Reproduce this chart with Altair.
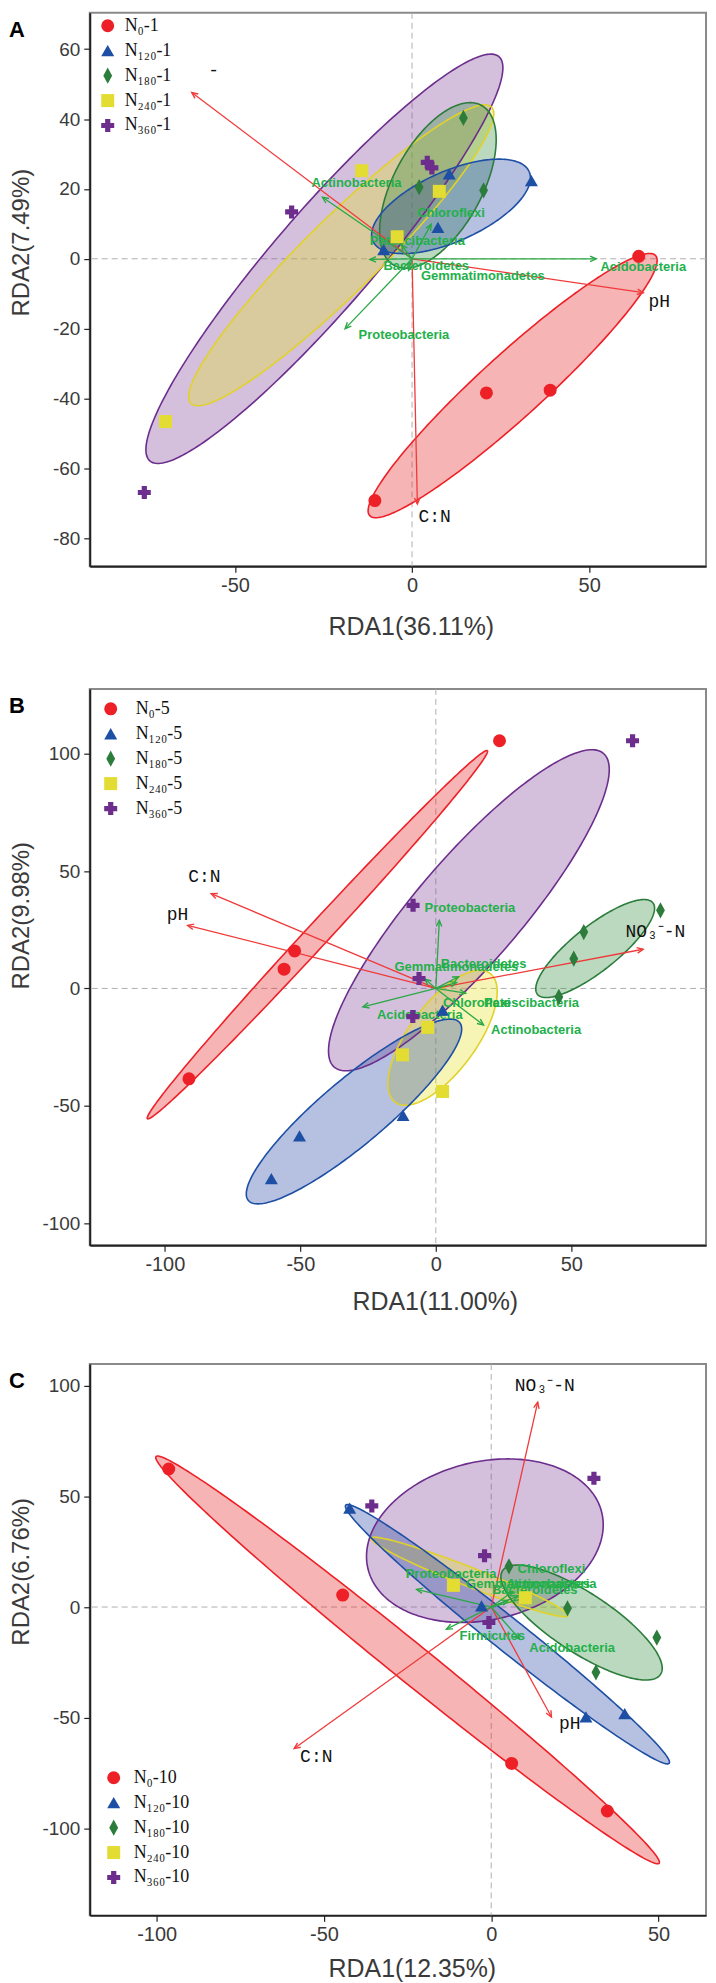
import altair as alt
import numpy as np
import pandas as pd

# ---------------- shared styling ----------------
COLORS = ["#ee2027", "#1d4fa5", "#2c7c3b", "#e3dc32", "#6c2d8c"]
FILLS = ["#e41a1c", "#2040a0", "#2e8b3e", "#e8e020", "#7b3f95"]
LINE_COLORS = ["#ee2027", "#1d4fa5", "#2c7c3b", "#e0d22a", "#6c2d8c"]
SHAPES = ["circle", "triangle-up", "M0,-1.25L0.68,0L0,1.25L-0.68,0Z", "square", "cross"]
DRAW_ORDER = [4, 3, 2, 1, 0]
ENV_COLOR = "#f03a3a"
SPEC_COLOR = "#2aa846"
SPEC_TEXT = "#22b04a"
CHEVRON = "M-0.45,1L0,0L0.45,1"

# ---------------- Panel A ----------------
A_GROUPS = ["N₀-1", "N₁₂₀-1", "N₁₈₀-1", "N₂₄₀-1", "N₃₆₀-1"]
A_PX = [64, 21, 39, -10.5, 33.7, 10.5, 7.3, -8, 14.5, 2, 20.2, -14.2, 7.7, -4.2, -69.6, 4.3, 5.6, -34, -75.6]
A_PY = [0.7, -38.4, -37.6, -69.2, 22.4, 24.3, 9, 2.6, 40.3, 20.5, 19.6, 25.2, 19.3, 6.3, -46.6, 27.6, 26, 13.4, -66.9]
A_PG = [0, 0, 0, 0, 1, 1, 1, 1, 2, 2, 2, 3, 3, 3, 3, 4, 4, 4, 4]
# ellipse: centre x, centre y, semi-major, semi-minor, angle (deg)
A_ELL = [(28.4, -36.3, 54.9, 9, 42.7), (11, 15, 24.2, 10, 24.4), (7.3, 21, 26, 12.5, 62),
         (-20, 1, 60, 10.5, 45), (-24.75, 0, 76, 14, 49.6)]
A_ENV_NAME = ["-", "pH", "C:N"]
A_ENV_X = [-62.2, 65.3, 1.5]
A_ENV_Y = [47.6, -9.7, -70.2]
A_ENV_LX = [-56, 69.8, 6.4]
A_ENV_LY = [53.8, -12.3, -74]
A_SP_NAME = ["Acidobacteria", "Actinobacteria", "Chloroflexi", "Patescibacteria", "Bacteroidetes", "Gemmatimonadetes", "Proteobacteria"]
A_SP_X = [52, -25.3, 5.4, -3, -11.9, -1, -18.9]
A_SP_Y = [0, 17.6, 9.9, 4, -0.2, -3.3, -20]
A_SP_LX = [65.3, -15.7, 11, 1.5, 4, 20, -2.3]
A_SP_LY = [-2.4, 21.7, 13.2, 5.2, -2.2, -5, -21.9]

# ---------------- Panel B ----------------
B_GROUPS = ["N₀-5", "N₁₂₀-5", "N₁₈₀-5", "N₂₄₀-5", "N₃₆₀-5"]
B_PX = [23.5, -52.1, -56, -91.1, -60.7, -50.3, -12.1, 2.5, 82.9, 54.6, 50.9, 45.4, -3, -12.3, 2.5, 72.6, -8.4, -6.2, -8.5]
B_PY = [105.5, 16, 8.2, -38.5, -81, -62.8, -54.1, -9.2, 33.3, 24, 12.7, -3.6, -16.6, -28.3, -43.9, 105.5, 35.4, 4.2, -12]
B_PG = [0, 0, 0, 0, 1, 1, 1, 1, 2, 2, 2, 2, 3, 3, 3, 4, 4, 4, 4]
B_ELL = [(-43.7, 22.9, 100.4, 4.5, 51.35), (-30.2, -52.4, 54.4, 13, 44.7), (58.8, 17, 28.9, 9, 43.3),
         (2.5, -21, 32.6, 13, 59), (12.2, 33.3, 83.3, 20.5, 53.9)]
B_ENV_NAME = ["C:N", "pH", "NO₃⁻-N"]
B_ENV_X = [-82.9, -91.6, 76.5]
B_ENV_Y = [40.4, 26.9, 16.7]
B_ENV_LX = [-85.4, -95.3, 81]
B_ENV_LY = [47.4, 31.4, 24]
B_SP_NAME = ["Proteobacteria", "Gemmatimonadetes", "Bacteroidetes", "Chloroflexi", "Patescibacteria", "Acidobacteria", "Actinobacteria"]
B_SP_X = [1.3, -4, 8.4, 11, 7.6, -26.9, 17.6]
B_SP_Y = [29, 4, 5, -2, 2.5, -7.8, -15.6]
B_SP_LX = [12.6, 7.6, 17.6, 15.1, 35.3, -5.9, 37]
B_SP_LY = [34.3, 9.2, 10.6, -6.4, -6, -11.3, -17.7]

# ---------------- Panel C ----------------
C_GROUPS = ["N₀-10", "N₁₂₀-10", "N₁₈₀-10", "N₂₄₀-10", "N₃₆₀-10"]
C_PX = [-96.4, -44.4, 6.1, 34.7, -42.3, -2.9, 28.3, 39.9, 5.3, 22.8, 49.5, 31.3, -11.3, 10.2, -35.7, 30.7, -2, -0.7]
C_PY = [62.4, 5.4, -70.7, -92.2, 44.7, 0.5, -49.7, -48.2, 18.4, -0.6, -13.8, -29.5, 9.8, 4.2, 45.7, 58.2, 23.2, -7]
C_PG = [0, 0, 0, 0, 1, 1, 1, 1, 2, 2, 2, 2, 3, 3, 4, 4, 4, 4]
C_ELL = [(-25, -23.9, 118.8, 7, -50.8), (4.85, -12.3, 75.8, 6, -50.5), (27, -7, 33.6, 11.3, -47.7),
         (-6.5, 13.6, 34.2, 4, -31), (-1.9, 30, 39.6, 32.4, 51.4)]
C_ENV_NAME = ["NO₃⁻-N", "C:N", "pH"]
C_ENV_X = [13.9, -58.9, 18]
C_ENV_Y = [92.6, -64, -49.7]
C_ENV_LX = [16, -52.3, 23.5]
C_ENV_LY = [100.1, -67.7, -52.7]
C_SP_NAME = ["Proteobacteria", "Chloroflexi", "Gemmatimonadetes", "Actinobacteria", "Bacteroidetes", "Firmicutes", "Acidobacteria"]
C_SP_X = [-22.3, 6.4, 8, 10, 5, -13.4, 8.5]
C_SP_Y = [8, 7, 5, 4, 3, -10, -14.5]
C_SP_LX = [-12, 18, 11, 18, 13, 0.3, 24.2]
C_SP_LY = [15, 17, 10.5, 10.5, 7.5, -13, -18.3]


def ellipse_band(cx, cy, a, b, ang, n=180):
    th = np.radians(ang)
    c, s = np.cos(th), np.sin(th)
    W = np.sqrt(a * a * c * c + b * b * s * s)
    t = np.linspace(np.pi, 0, n)
    X = W * np.cos(t)
    qa = s * s / (a * a) + c * c / (b * b)
    qb = 2 * X * s * c * (1 / (a * a) - 1 / (b * b))
    qc = X * X * (c * c / (a * a) + s * s / (b * b)) - 1
    disc = np.sqrt(np.clip(qb * qb - 4 * qa * qc, 0, None))
    return pd.DataFrame({"x": cx + X, "yhi": cy + (-qb + disc) / (2 * qa), "ylo": cy + (-qb - disc) / (2 * qa)})


def ellipse_ring(cx, cy, a, b, ang, n=240):
    th = np.radians(ang)
    c, s = np.cos(th), np.sin(th)
    t = np.linspace(0, 2 * np.pi, n)
    X = a * np.cos(t) * c - b * np.sin(t) * s
    Y = a * np.cos(t) * s + b * np.sin(t) * c
    return pd.DataFrame({"x": cx + X, "y": cy + Y, "o": np.arange(n)})


def panel(letter, groups, px, py, pg, ell, env, spec, xdom, ydom, xticks, yticks,
          w, h, xtitle, ytitle, xtx, xty, yty, legxy, labeloff):
    kx = w / (xdom[1] - xdom[0])
    ky = h / (ydom[1] - ydom[0])
    xs = alt.Scale(domain=xdom, nice=False, zero=False)
    ys = alt.Scale(domain=ydom, nice=False, zero=False)
    xa = alt.Axis(values=xticks, title=xtitle, titleX=xtx, titleY=xty, titleAlign="center",
                  titleBaseline="middle", grid=False, labelExpr="'' + datum.value")
    ya = alt.Axis(values=yticks, title=ytitle, titleX=-68, titleY=yty, titleAlign="center",
                  titleBaseline="middle", grid=False, labelExpr="'' + datum.value")

    def X(f):
        return alt.X(f, type="quantitative", scale=xs, axis=xa)

    def Y(f):
        return alt.Y(f, type="quantitative", scale=ys, axis=ya)

    layers = []
    zero = pd.DataFrame({"v": [0.0]})
    layers.append(alt.Chart(zero).mark_rule(color="#b0b0b0", strokeDash=[6, 4], strokeWidth=1).encode(x=X("v")))
    layers.append(alt.Chart(zero).mark_rule(color="#b0b0b0", strokeDash=[6, 4], strokeWidth=1).encode(y=Y("v")))

    for i in DRAW_ORDER:
        band = ellipse_band(*ell[i])
        layers.append(alt.Chart(band).mark_area(color=FILLS[i], opacity=0.33, clip=True)
                      .encode(x=X("x"), y=Y("yhi"), y2="ylo"))
    for i in DRAW_ORDER:
        ring = ellipse_ring(*ell[i])
        layers.append(alt.Chart(ring).mark_line(color=LINE_COLORS[i], strokeWidth=1.6, clip=True)
                      .encode(x=X("x"), y=Y("y"), order="o:Q"))

    for (names, tx, ty, lx, ly), col, tcol, font, fsize, fw in [
        (env, ENV_COLOR, "#111111", "Liberation Mono", 18, "normal"),
        (spec, SPEC_COLOR, SPEC_TEXT, "Liberation Sans Narrow, Liberation Sans", 13, "bold"),
    ]:
        ang = [(np.degrees(np.arctan2(x * kx, y * ky)) + 360) % 360 for x, y in zip(tx, ty)]
        df = pd.DataFrame({"name": names, "x0": 0.0, "y0": 0.0, "x": tx, "y": ty,
                           "lx": lx, "ly": ly, "ang": ang})
        layers.append(alt.Chart(df).mark_rule(color=col, strokeWidth=1.3)
                      .encode(x=X("x0"), y=Y("y0"), x2="x", y2="y"))
        layers.append(alt.Chart(df).mark_point(shape=CHEVRON, filled=False, size=150, strokeWidth=1.4,
                                               color=col, opacity=1)
                      .encode(x=X("x"), y=Y("y"), angle=alt.Angle("ang:Q", scale=None)))
        layers.append(alt.Chart(df).mark_text(font=font, fontSize=fsize, fontWeight=fw, color=tcol,
                                              align="center", baseline="middle")
                      .encode(x=X("lx"), y=Y("ly"), text="name:N"))

    pts = pd.DataFrame({"x": px, "y": py, "g": [groups[k] for k in pg]})
    leg = alt.Legend(orient="none", legendX=legxy[0], legendY=legxy[1], title=None,
                     labelFont="Liberation Serif", labelFontSize=18, labelColor="#111111",
                     symbolSize=170, rowPadding=7, labelOffset=labeloff, padding=0,
                     symbolStrokeWidth=0, labelLimit=200)
    layers.append(alt.Chart(pts).mark_point(filled=True, size=170, opacity=1)
                  .encode(x=X("x"), y=Y("y"),
                          color=alt.Color("g:N", scale=alt.Scale(domain=groups, range=COLORS), legend=leg),
                          shape=alt.Shape("g:N", scale=alt.Scale(domain=groups, range=SHAPES), legend=leg)))

    layers.append(alt.Chart(pd.DataFrame({"t": [letter]}))
                  .mark_text(font="Liberation Sans", fontSize=22, fontWeight="bold", color="#000000",
                             align="center", baseline="middle")
                  .encode(text="t:N", x=alt.value(-73), y=alt.value(17)))
    return alt.layer(*layers).properties(width=w, height=h)


pA = panel("A", A_GROUPS, A_PX, A_PY, A_PG, A_ELL,
           (A_ENV_NAME, A_ENV_X, A_ENV_Y, A_ENV_LX, A_ENV_LY),
           (A_SP_NAME, A_SP_X, A_SP_Y, A_SP_LX, A_SP_LY),
           [-91, 83], [-88, 70.4], [-50, 0, 50], [-80, -60, -40, -20, 0, 20, 40, 60],
           618, 555, "RDA1(36.11%)", "RDA2(7.49%)", 322, 60, 230, (9, 4), 8)
pB = panel("B", B_GROUPS, B_PX, B_PY, B_PG, B_ELL,
           (B_ENV_NAME, B_ENV_X, B_ENV_Y, B_ENV_LX, B_ENV_LY),
           (B_SP_NAME, B_SP_X, B_SP_Y, B_SP_LX, B_SP_LY),
           [-127.7, 99.7], [-109.4, 127.6], [-100, -50, 0, 50], [-100, -50, 0, 50, 100],
           618, 558, "RDA1(11.00%)", "RDA2(9.98%)", 346, 56, 227, (12, 11), 16)
pC = panel("C", C_GROUPS, C_PX, C_PY, C_PG, C_ELL,
           (C_ENV_NAME, C_ENV_X, C_ENV_Y, C_ENV_LX, C_ENV_LY),
           (C_SP_NAME, C_SP_X, C_SP_Y, C_SP_LX, C_SP_LY),
           [-120, 64.2], [-139.4, 109.9], [-100, -50, 0, 50], [-100, -50, 0, 50, 100],
           618, 553, "RDA1(12.35%)", "RDA2(6.76%)", 323, 53, 208, (15, 406), 11)

chart = (
    alt.vconcat(pA, pB, pC, spacing=47)
    .resolve_scale(x="independent", y="independent", color="independent", shape="independent")
    .properties(padding=0)
    .configure_view(stroke="#8a8a8a", strokeWidth=2)
    .configure_axis(grid=False, domainColor="#222222", domainWidth=2, tickColor="#222222",
                    tickSize=6, tickWidth=1.2, labelFont="Liberation Sans", labelColor="#3a3a3a",
                    titleFont="Liberation Sans", titleFontWeight="normal", titleColor="#3a3a3a")
    .configure_axisX(labelFontSize=20, titleFontSize=25, labelPadding=3)
    .configure_axisY(labelFontSize=19, titleFontSize=24, labelPadding=4)
)

chart.save("out.html", embed_options={"renderer": "svg", "actions": False})
